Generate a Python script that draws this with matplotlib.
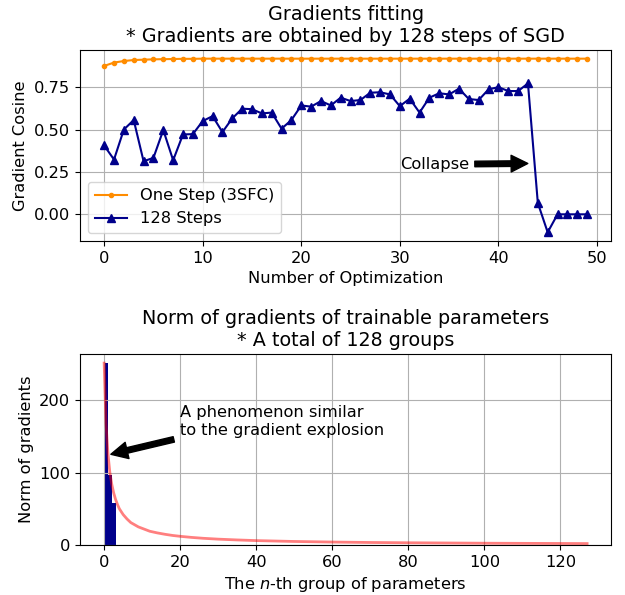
import matplotlib
matplotlib.use('Agg')
import matplotlib.pyplot as plt

# top chart: cosine between fitted gradients and real ones
steps = list(range(50))
one_step = [0.875, 0.895, 0.904, 0.91, 0.912, 0.914, 0.915, 0.916, 0.917, 0.917,
            0.918, 0.918, 0.918, 0.918, 0.918, 0.918, 0.918, 0.918, 0.918, 0.918,
            0.918, 0.918, 0.918, 0.918, 0.918, 0.918, 0.918, 0.918, 0.918, 0.918,
            0.918, 0.918, 0.918, 0.918, 0.918, 0.918, 0.918, 0.918, 0.918, 0.918,
            0.918, 0.918, 0.918, 0.918, 0.918, 0.918, 0.918, 0.918, 0.918, 0.918]
sgd_128 = [0.406, 0.323, 0.50, 0.556, 0.313, 0.333, 0.497, 0.319, 0.471, 0.473,
           0.55, 0.579, 0.485, 0.566, 0.623, 0.62, 0.595, 0.6, 0.505, 0.556,
           0.642, 0.635, 0.668, 0.642, 0.688, 0.668, 0.674, 0.717, 0.72, 0.707,
           0.638, 0.682, 0.60, 0.688, 0.714, 0.707, 0.741, 0.68, 0.674, 0.737,
           0.75, 0.727, 0.727, 0.772, 0.067, -0.106, 0.0, 0.0, 0.0, 0.0]

# bottom chart: gradient norm per parameter group
groups = [0, 1, 2]
norms = [251, 97, 58]
fit_x = [0, 0.5, 1, 1.5, 2, 2.5, 3, 3.5, 4, 5, 6, 7, 8, 9, 10, 11, 12, 14, 16, 18,
         20, 23, 26, 30, 35, 40, 50, 60, 70, 80, 90, 100, 110, 127]
fit_y = [251, 167, 126, 100, 84, 72, 63, 56, 50, 42, 36, 31, 28, 25, 23, 21, 19, 16.7, 14.8, 13.2,
         12, 10.5, 9.3, 8.1, 7.0, 6.1, 4.9, 4.1, 3.5, 3.1, 2.8, 2.5, 2.3, 2.0]

plt.rcParams['font.size'] = 11.7
fig = plt.figure(figsize=(6.25, 5.95), dpi=100)

ax1 = fig.add_axes([0.128, 0.595, 0.85, 0.321])
ax1.plot(steps, one_step, '.-', color='darkorange', label='One Step (3SFC)')
ax1.plot(steps, sgd_128, '^-', color='darkblue', label='128 Steps')
ax1.annotate('Collapse', xy=(43.3, 0.30), xytext=(30, 0.27),
             arrowprops=dict(facecolor='black', shrink=0.05))
ax1.set_title('Gradients fitting\n* Gradients are obtained by 128 steps of SGD', fontsize=13.8)
ax1.set_xlabel('Number of Optimization')
ax1.set_ylabel('Gradient Cosine')
ax1.legend(loc='lower left')
ax1.grid(True)

ax2 = fig.add_axes([0.128, 0.084, 0.85, 0.321])
ax2.bar(groups, norms, width=1, align='edge', color='darkblue')
ax2.plot(fit_x, fit_y, color='red', alpha=0.5, linewidth=2)
ax2.annotate('A phenomenon similar\nto the gradient explosion', xy=(0.8, 124), xytext=(20, 152),
             arrowprops=dict(facecolor='black', shrink=0.05))
ax2.set_title('Norm of gradients of trainable parameters\n* A total of 128 groups', fontsize=13.8)
ax2.set_xlabel('The $n$-th group of parameters')
ax2.set_ylabel('Norm of gradients')
ax2.grid(True)

plt.savefig('out.png')
